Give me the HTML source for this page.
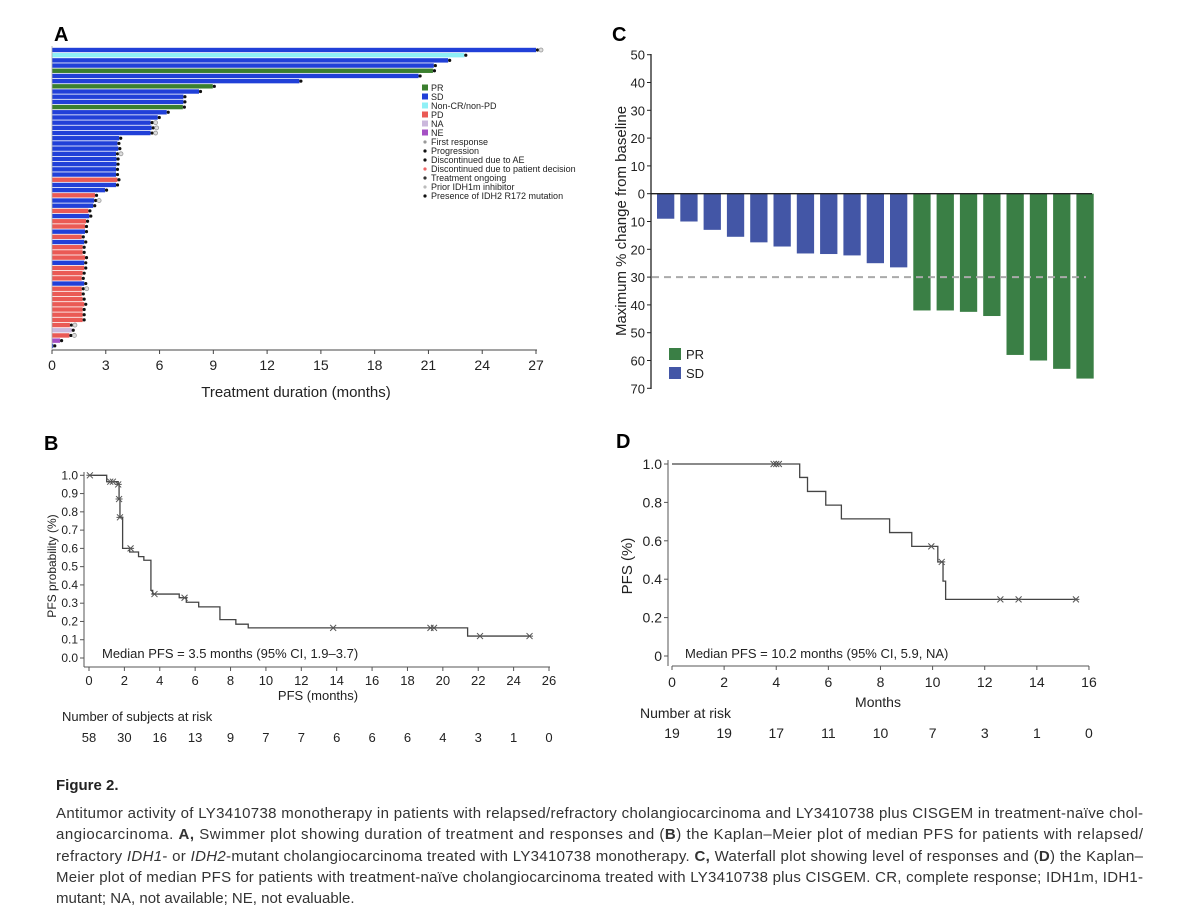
<!DOCTYPE html>
<html><head><meta charset="utf-8"><style>
html,body{margin:0;padding:0;background:#fff;}
svg{display:block;font-family:"Liberation Sans",sans-serif;}
</style></head><body>
<svg id="fig" width="1200" height="912" viewBox="0 0 1200 912" xmlns="http://www.w3.org/2000/svg">
<g id="pa"></g>
<g id="pb"></g>
<g id="pc"></g>
<g id="pd"></g>
<g font-size="15" fill="#333">
<text x="56" y="790" font-weight="bold" fill="#222">Figure 2.</text>
<text x="56" y="818" textLength="1087" lengthAdjust="spacing">Antitumor activity of LY3410738 monotherapy in patients with relapsed/refractory cholangiocarcinoma and LY3410738 plus CISGEM in treatment-naïve chol-</text>
<text x="56" y="839" textLength="1087" lengthAdjust="spacing">angiocarcinoma. <tspan font-weight="bold">A,</tspan> Swimmer plot showing duration of treatment and responses and (<tspan font-weight="bold">B</tspan>) the Kaplan–Meier plot of median PFS for patients with relapsed/</text>
<text x="56" y="861" textLength="1087" lengthAdjust="spacing">refractory <tspan font-style="italic">IDH1</tspan>- or <tspan font-style="italic">IDH2</tspan>-mutant cholangiocarcinoma treated with LY3410738 monotherapy. <tspan font-weight="bold">C,</tspan> Waterfall plot showing level of responses and (<tspan font-weight="bold">D</tspan>) the Kaplan–</text>
<text x="56" y="882" textLength="1087" lengthAdjust="spacing">Meier plot of median PFS for patients with treatment-naïve cholangiocarcinoma treated with LY3410738 plus CISGEM. CR, complete response; IDH1m, IDH1-</text>
<text x="56" y="903">mutant; NA, not available; NE, not evaluable.</text>
</g>
</svg>
<script>
// ---------- Panel A data ----------
const aDur = [27.0,23.0,22.1,21.3,21.25,20.45,13.8,8.97,8.2,7.33,7.33,7.3,6.4,5.9,5.5,5.56,5.5,3.75,3.65,3.7,3.57,3.6,3.6,3.57,3.57,3.65,3.57,2.96,2.4,2.35,2.3,2.03,2.08,1.9,1.84,1.84,1.66,1.8,1.71,1.71,1.84,1.8,1.8,1.71,1.66,1.8,1.66,1.66,1.71,1.8,1.71,1.71,1.71,1.0,1.1,0.97,0.45,0.07];
const aResp = ["SD","CR","SD","SD","PR","SD","SD","PR","SD","SD","SD","PR","SD","SD","SD","SD","SD","SD","SD","SD","SD","SD","SD","SD","SD","PD","SD","SD","PD","SD","SD","PD","SD","PD","PD","SD","PD","SD","PD","PD","PD","SD","PD","PD","PD","SD","PD","PD","PD","PD","PD","PD","PD","PD","NA","PD","NE","SD"];
const aPrior = [1,0,0,0,0,0,0,0,0,0,0,0,0,0,1,1,1,0,0,0,1,0,0,0,0,0,0,0,0,1,0,0,0,0,0,0,0,0,0,0,0,0,0,0,0,0,1,0,0,0,0,0,0,1,0,1,0,0];
const aTicks = [0,3,6,9,12,15,18,21,24,27];
const aLegend = ["PR","SD","Non-CR/non-PD","PD","NA","NE"];
const aLegend2 = ["First response","Progression","Discontinued due to AE","Discontinued due to patient decision","Treatment ongoing","Prior IDH1m inhibitor","Presence of IDH2 R172 mutation"];
// ---------- Panel B data ----------
const bT = [0,1.0,1.65,1.7,1.75,1.9,2.3,2.8,3.1,3.5,3.6,5.1,5.5,6.2,7.4,8.3,9.0,21.4,24.9];
const bS = [1.0,0.965,0.95,0.87,0.77,0.6,0.58,0.555,0.535,0.37,0.35,0.33,0.305,0.28,0.21,0.185,0.165,0.12,0.12];
const bCensT = [0.05,1.2,1.35,1.65,1.7,1.75,2.35,3.7,5.4,13.8,19.3,19.5,22.1,24.9];
const bCensS = [1.0,0.965,0.965,0.95,0.87,0.77,0.6,0.35,0.33,0.165,0.165,0.165,0.12,0.12];
const bXTicks = [0,2,4,6,8,10,12,14,16,18,20,22,24,26];
const bYTicks = [0,0.1,0.2,0.3,0.4,0.5,0.6,0.7,0.8,0.9,1.0];
const bRisk = [58,30,16,13,9,7,7,6,6,6,4,3,1,0];
// ---------- Panel C data ----------
const cVals = [9,10,13,15.5,17.5,19,21.5,21.7,22.2,25,26.5,42,42,42.5,44,58,60,63,66.5];
const cResp = ["SD","SD","SD","SD","SD","SD","SD","SD","SD","SD","SD","PR","PR","PR","PR","PR","PR","PR","PR"];
const cYTicks = [50,40,30,20,10,0,10,20,30,40,50,60,70];
// ---------- Panel D data ----------
const dT = [0,4.9,5.2,5.9,6.5,8.35,9.2,10.2,10.4,10.5,15.5];
const dS = [1.0,0.93,0.857,0.786,0.714,0.643,0.571,0.49,0.39,0.295,0.295];
const dCensT = [3.9,4.0,4.1,9.95,10.35,12.6,13.3,15.5];
const dCensS = [1.0,1.0,1.0,0.571,0.49,0.295,0.295,0.295];
const dXTicks = [0,2,4,6,8,10,12,14,16];
const dYTicks = [0,0.2,0.4,0.6,0.8,1.0];
const dYLabels = ["0","0.2","0.4","0.6","0.8","1.0"];
const dRisk = [19,19,17,11,10,7,3,1,0];

const NS="http://www.w3.org/2000/svg";
function mk(p,tag,at,txt){const e=document.createElementNS(NS,tag);for(const k in at)e.setAttribute(k,at[k]);if(txt!==undefined)e.textContent=txt;p.appendChild(e);return e;}
const colors={PR:"#3b7f2f",SD:"#2140d8",CR:"#8ff0f6",PD:"#ea5a55",NA:"#cbb8dc",NE:"#a550c4"};

// ===== Panel A =====
(function(){
const g=document.getElementById('pa');
const ax=v=>52+v*(484/27);
const ay=i=>50+i*5.19;
let t=mk(g,'text',{x:54,y:41,'font-size':20,'font-weight':'bold'},'A');


aDur.forEach((d,i)=>{
 const r=mk(g,'rect',{x:ax(0),y:ay(i)-2.2,width:Math.max(ax(d)-ax(0),1),height:4.4,fill:colors[aResp[i]]});
 
 
 const m=mk(g,'circle',{cx:ax(d)+1.5,cy:ay(i),r:1.6,fill:'#111'});
 
 
 if(aPrior[i]){const c=mk(g,'circle',{cx:ax(d)+5,cy:ay(i),r:2,fill:'#ddd',stroke:'#999','stroke-width':0.8});
 
 }
});
mk(g,'line',{x1:52,y1:350,x2:537,y2:350,stroke:'#444','stroke-width':1});
mk(g,'line',{x1:52,y1:46,x2:52,y2:350,stroke:'#aaa','stroke-width':0.8});
aTicks.forEach(v=>{
 mk(g,'line',{x1:ax(v),y1:350,x2:ax(v),y2:354,stroke:'#444'});
 const l=mk(g,'text',{x:ax(v),y:370,'font-size':14,'text-anchor':'middle',fill:'#222'},v);
 
 
});
t=mk(g,'text',{x:296,y:397,'font-size':15,'text-anchor':'middle',fill:'#222'},'Treatment duration (months)');


const lc=["PR","SD","CR","PD","NA","NE"];
aLegend.forEach((s,i)=>{
 const y=88+i*9;
 mk(g,'rect',{x:422,y:y-3.5,width:6,height:6,fill:colors[lc[i]]});
 const l=mk(g,'text',{x:431,y:y+3,'font-size':9,fill:'#222'},s);
 
 
});
const mcol=['#999','#111','#111','#e66','#333','#bbb','#111'];
aLegend2.forEach((s,i)=>{
 const y=142+i*9;
 mk(g,'circle',{cx:425,cy:y,r:1.6,fill:mcol[i]});
 const l=mk(g,'text',{x:431,y:y+3,'font-size':9,fill:'#222'},s);
 
 
});
})();

// ===== KM helper =====
function km(g,T,S,cT,cS,x,y){
 let d='M'+x(T[0])+','+y(S[0]);
 for(let i=1;i<T.length;i++){d+=' H'+x(T[i])+' V'+y(S[i]);}
 const p=mk(g,'path',{d:d,fill:'none',stroke:'#444','stroke-width':1.3});
 
 
 cT.forEach((t,i)=>{
  const cx=x(t),cy=y(cS[i]);
  const c=mk(g,'path',{d:`M${cx-3},${cy-3}L${cx+3},${cy+3}M${cx-3},${cy+3}L${cx+3},${cy-3}M${cx-3.5},${cy}H${cx+3.5}`,stroke:'#555','stroke-width':1});
  
  
 });
}

// ===== Panel B =====
(function(){
const g=document.getElementById('pb');
const x=v=>89+v*(460/26), y=v=>658-v*182.7;
let t=mk(g,'text',{x:44,y:450,'font-size':20,'font-weight':'bold'},'B');


mk(g,'line',{x1:84,y1:472,x2:84,y2:667,stroke:'#555'});
mk(g,'line',{x1:84,y1:667,x2:550,y2:667,stroke:'#555'});
bYTicks.forEach(v=>{
 mk(g,'line',{x1:80,y1:y(v),x2:84,y2:y(v),stroke:'#555'});
 const l=mk(g,'text',{x:78,y:y(v)+4,'font-size':12,'text-anchor':'end',fill:'#222'},v.toFixed(1));
 
 
});
bXTicks.forEach((v,i)=>{
 mk(g,'line',{x1:x(v),y1:667,x2:x(v),y2:671,stroke:'#555'});
 const l=mk(g,'text',{x:x(v),y:685,'font-size':13,'text-anchor':'middle',fill:'#222'},v);
 
 
 const r=mk(g,'text',{x:x(v),y:742,'font-size':13,'text-anchor':'middle',fill:'#222'},bRisk[i]);
 
 
});
t=mk(g,'text',{x:318,y:700,'font-size':13,'text-anchor':'middle',fill:'#222'},'PFS (months)');


t=mk(g,'text',{x:62,y:721,'font-size':13,fill:'#222'},'Number of subjects at risk');


t=mk(g,'text',{x:0,y:0,'font-size':12,'text-anchor':'middle',fill:'#222',transform:'translate(56,566) rotate(-90)'},'PFS probability (%)');


t=mk(g,'text',{x:102,y:658,'font-size':13,fill:'#222'},'Median PFS = 3.5 months (95% CI, 1.9–3.7)');


km(g,bT,bS,bCensT,bCensS,x,y);
})();

// ===== Panel C =====
(function(){
const g=document.getElementById('pc');
const y=v=>193.7+v*2.78; // v positive = reduction
const bx=i=>657+i*23.3;
let t=mk(g,'text',{x:612,y:41,'font-size':20,'font-weight':'bold'},'C');


cVals.forEach((v,i)=>{
 const r=mk(g,'rect',{x:bx(i),y:y(0),width:17.3,height:y(v)-y(0),fill:cResp[i]==='PR'?'#3a7f45':'#4356a6'});
 
 
});
mk(g,'line',{x1:651,y1:y(0),x2:1092,y2:y(0),stroke:'#222','stroke-width':1.3});
const dl=mk(g,'line',{x1:652,y1:y(30),x2:1086,y2:y(30),stroke:'#aaa','stroke-width':2,'stroke-dasharray':'7,5'});


mk(g,'line',{x1:651,y1:54,x2:651,y2:389,stroke:'#222','stroke-width':1.3});
cYTicks.forEach((v,i)=>{
 const yy=54.7+i*27.8;
 mk(g,'line',{x1:647,y1:yy,x2:651,y2:yy,stroke:'#222'});
 const l=mk(g,'text',{x:645,y:yy+5,'font-size':13,'text-anchor':'end',fill:'#222'},v);
 
 
});
t=mk(g,'text',{x:0,y:0,'font-size':15,'text-anchor':'middle',fill:'#222',transform:'translate(626,221) rotate(-90)'},'Maximum % change from baseline');


[["PR","#3a7f45",348],["SD","#4356a6",367]].forEach(a=>{
 mk(g,'rect',{x:669,y:a[2],width:12,height:12,fill:a[1]});
 const l=mk(g,'text',{x:686,y:a[2]+11,'font-size':13,fill:'#222'},a[0]);
 
 
});
})();

// ===== Panel D =====
(function(){
const g=document.getElementById('pd');
const x=v=>672+v*26.06, y=v=>656-v*192;
let t=mk(g,'text',{x:616,y:448,'font-size':20,'font-weight':'bold'},'D');


mk(g,'line',{x1:668,y1:460,x2:668,y2:666,stroke:'#555'});
mk(g,'line',{x1:672,y1:666,x2:1089,y2:666,stroke:'#555'});
dYTicks.forEach((v,i)=>{
 mk(g,'line',{x1:664,y1:y(v),x2:668,y2:y(v),stroke:'#555'});
 const l=mk(g,'text',{x:662,y:y(v)+5,'font-size':14,'text-anchor':'end',fill:'#222'},dYLabels[i]);
 
 
});
dXTicks.forEach((v,i)=>{
 mk(g,'line',{x1:x(v),y1:666,x2:x(v),y2:670,stroke:'#555'});
 const l=mk(g,'text',{x:x(v),y:687,'font-size':14,'text-anchor':'middle',fill:'#222'},v);
 
 
 const r=mk(g,'text',{x:x(v),y:738,'font-size':14,'text-anchor':'middle',fill:'#222'},dRisk[i]);
 
 
});
t=mk(g,'text',{x:878,y:707,'font-size':14,'text-anchor':'middle',fill:'#222'},'Months');


t=mk(g,'text',{x:640,y:718,'font-size':14,fill:'#222'},'Number at risk');


t=mk(g,'text',{x:0,y:0,'font-size':15,'text-anchor':'middle',fill:'#222',transform:'translate(632,566) rotate(-90)'},'PFS (%)');


t=mk(g,'text',{x:685,y:658,'font-size':13,fill:'#222'},'Median PFS = 10.2 months (95% CI, 5.9, NA)');


km(g,dT,dS,dCensT,dCensS,x,y);
})();
</script>
</body></html>
